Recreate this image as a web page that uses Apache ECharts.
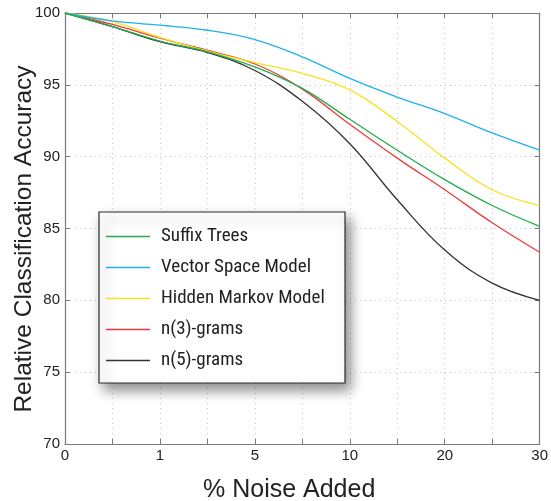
<!DOCTYPE html>
<html>
<head>
<meta charset="utf-8">
<script src="https://cdn.jsdelivr.net/npm/echarts@6/dist/echarts.min.js"></script>
<style>
html,body{margin:0;padding:0;background:#fff;}
#chart{width:551px;height:501px;}
</style>
</head>
<body>
<div id="chart"></div>
<script>
// x positions are equally spaced axis slots; tick labels map slots to % noise
const positions = [0, 1, 2, 3, 4, 5, 6, 7, 8, 9, 10];
const xTickLabels = ['0', '', '1', '', '5', '', '10', '', '20', '', '30'];
const yTicks = [70, 75, 80, 85, 90, 95, 100];

const seriesNames = ['Suffix Trees', 'Vector Space Model', 'Hidden Markov Model', 'n(3)-grams', 'n(5)-grams'];
const suffixTrees       = [100, 99.05, 98.05, 97.3, 96.25, 94.75, 92.6, 90.45, 88.4, 86.6, 85.15];
const vectorSpaceModel  = [100, 99.45, 99.15, 98.8, 98.15, 96.95, 95.45, 94.15, 93.0, 91.65, 90.45];
const hiddenMarkovModel = [100, 99.4, 98.3, 97.35, 96.55, 95.8, 94.65, 92.45, 89.9, 87.7, 86.6];
const nGrams3           = [100, 99.2, 98.25, 97.4, 96.45, 94.7, 92.25, 89.9, 87.7, 85.4, 83.35];
const nGrams5           = [100, 99.05, 98.0, 97.25, 96.0, 93.85, 90.9, 87.0, 83.5, 81.2, 80.0];

const seriesValues = [suffixTrees, vectorSpaceModel, hiddenMarkovModel, nGrams3, nGrams5];
const colors = ['#1fae4b', '#1cb4ee', '#f8e21c', '#ef3b3b', '#333333'];

const chart = echarts.init(document.getElementById('chart'), null, {renderer: 'canvas'});

const axisGrey = '#7a7a7a';
const gridStyle = {show: true, lineStyle: {color: '#c4c4c4', type: [1, 4], width: 1}};
const labelFont = {color: '#222', fontSize: 15, fontFamily: 'Liberation Sans, Arial, sans-serif'};

const option = {
  animation: false,
  backgroundColor: '#fff',
  grid: {left: 65, right: 7, top: 13, bottom: 57, containLabel: false},
  xAxis: [
    {
      type: 'value', min: 0, max: 10, interval: 1, position: 'bottom',
      axisLine: {show: true, onZero: false, lineStyle: {color: axisGrey, width: 1.2}},
      axisTick: {show: true, inside: true, length: 5, lineStyle: {color: axisGrey}},
      axisLabel: Object.assign({margin: 4, formatter: v => xTickLabels[v] || '', showMaxLabel: true, showMinLabel: true}, labelFont),
      splitLine: gridStyle
    },
    {
      type: 'value', min: 0, max: 10, interval: 1, position: 'top',
      axisLine: {show: true, onZero: false, lineStyle: {color: axisGrey, width: 1.2}},
      axisTick: {show: true, inside: true, length: 5, lineStyle: {color: axisGrey}},
      axisLabel: {show: false},
      splitLine: {show: false}
    }
  ],
  yAxis: [
    {
      type: 'value', min: yTicks[0], max: yTicks[yTicks.length - 1], interval: 5, position: 'left',
      axisLine: {show: true, onZero: false, lineStyle: {color: axisGrey, width: 1.2}},
      axisTick: {show: true, inside: true, length: 5, lineStyle: {color: axisGrey}},
      axisLabel: Object.assign({margin: 5}, labelFont),
      splitLine: gridStyle
    },
    {
      type: 'value', min: yTicks[0], max: yTicks[yTicks.length - 1], interval: 5, position: 'right',
      axisLine: {show: true, onZero: false, lineStyle: {color: axisGrey, width: 1.2}},
      axisTick: {show: true, inside: true, length: 5, lineStyle: {color: axisGrey}},
      axisLabel: {show: false},
      splitLine: {show: false}
    }
  ],
  legend: {
    orient: 'vertical',
    left: 99, top: 212,
    data: seriesNames,
    itemWidth: 44, itemHeight: 1.6, itemGap: 10,
    icon: 'rect',
    padding: [14, 14, 12, 7],
    backgroundColor: '#fff',
    borderColor: '#2a2a2a', borderWidth: 1.2, borderRadius: 0,
    shadowColor: 'rgba(0,0,0,0.45)', shadowBlur: 12, shadowOffsetX: 5, shadowOffsetY: 7,
    textStyle: {
      color: '#222', fontSize: 19, lineHeight: 21, width: 170,
      fontFamily: "'Liberation Sans Narrow', 'Arial Narrow', 'Roboto Condensed', sans-serif",
      padding: [0, 0, 0, 6]
    }
  },
  graphic: [
    {
      type: 'text', left: 203, top: 478,
      style: {text: '% Noise Added', fontSize: 25, fill: '#222', fontFamily: 'Liberation Sans, Arial, sans-serif'}
    },
    {
      type: 'text', x: 24, y: 239, rotation: Math.PI / 2,
      style: {text: 'Relative Classification Accuracy', fontSize: 24.5, fill: '#222',
        fontFamily: 'Liberation Sans, Arial, sans-serif', align: 'center', verticalAlign: 'middle'}
    }
  ],
  series: seriesNames.map((name, i) => ({
    name: name,
    type: 'line',
    xAxisIndex: 0, yAxisIndex: 0,
    smooth: 0.4,
    symbol: 'none',
    lineStyle: {color: colors[i], width: 1.3},
    itemStyle: {color: colors[i]},
    data: positions.map((p, k) => [p, seriesValues[i][k]]),
    z: 10 - i
  }))
};
chart.setOption(option);
</script>
</body>
</html>
